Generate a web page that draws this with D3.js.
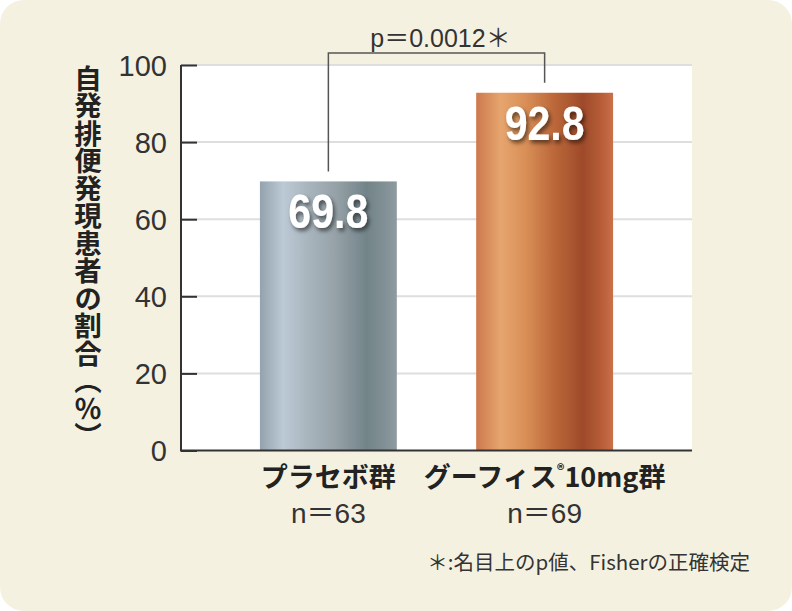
<!DOCTYPE html>
<html><head><meta charset="utf-8">
<script src="https://cdn.jsdelivr.net/npm/d3@7"></script>
<style>
html,body{margin:0;padding:0;background:#fff;}
svg{display:block;}
</style></head>
<body>
<svg id="chart" width="792" height="611"></svg>
<script>
const categories = ["プラセボ群", "グーフィス®10mg群"];
const nLabels = ["n＝63", "n＝69"];
const values = [69.8, 92.8];
const yTicks = [0, 20, 40, 60, 80, 100];
const yTitle = "自発排便発現患者の割合（％）";
const pText = "p＝0.0012＊";
const footnote = "＊:名目上のp値、Fisherの正確検定";

const svg = d3.select("#chart");
const W = 792, H = 611;
const plot = {left: 181, right: 692, top: 65, bottom: 450.5};

svg.append("rect").attr("x", 0).attr("y", 0).attr("width", W).attr("height", H)
  .attr("rx", 24).attr("fill", "#f5f1e1");

const defs = svg.append("defs");
const gradStops = [
  [[0, "#93a2ac"], [0.17, "#bccad6"], [0.35, "#a9b5bd"], [0.55, "#96a2a8"], [0.78, "#738489"], [0.9, "#7f8f94"], [1, "#8e9ba0"]],
  [[0, "#cd794d"], [0.18, "#e6a56e"], [0.36, "#d98f57"], [0.56, "#bd693b"], [0.78, "#9e4a2a"], [0.92, "#b85e38"], [1, "#c9714a"]]
];
gradStops.forEach((stops, i) => {
  const g = defs.append("linearGradient").attr("id", "bar" + i)
    .attr("x1", "0%").attr("x2", "100%").attr("y1", "0%").attr("y2", "0%");
  stops.forEach(s => g.append("stop").attr("offset", s[0]).attr("stop-color", s[1]));
});
const f = defs.append("filter").attr("id", "shadow").attr("x", "-20%").attr("y", "-20%").attr("width", "150%").attr("height", "160%");
f.append("feDropShadow").attr("dx", 2).attr("dy", 3).attr("stdDeviation", 2.2)
  .attr("flood-color", "#000").attr("flood-opacity", 0.55);

const x = d3.scaleBand().domain(categories).range([plot.left, plot.right])
  .paddingInner(0.367).paddingOuter(0.365);
const y = d3.scaleLinear().domain([0, 100]).range([plot.bottom, plot.top]);

// plot background
svg.append("rect").attr("x", plot.left).attr("y", plot.top)
  .attr("width", plot.right - plot.left).attr("height", plot.bottom - plot.top)
  .attr("fill", "#ffffff");

// gridlines
svg.append("g").selectAll("line").data(yTicks.filter(d => d > 0)).join("line")
  .attr("x1", plot.left).attr("x2", plot.right)
  .attr("y1", d => y(d)).attr("y2", d => y(d))
  .attr("stroke", "#dedede").attr("stroke-width", 2);

// bars
svg.append("g").selectAll("rect").data(values).join("rect")
  .attr("x", (d, i) => x(categories[i]))
  .attr("width", x.bandwidth())
  .attr("y", d => y(d))
  .attr("height", d => y(0) - y(d))
  .attr("fill", (d, i) => `url(#bar${i})`);

// axis
const axis = d3.axisLeft(y).tickValues(yTicks).tickSize(-16).tickPadding(14).tickFormat(d3.format("d"));
const ag = svg.append("g").attr("transform", `translate(${plot.left},0)`).call(axis);
ag.select(".domain").attr("stroke", "#333").attr("stroke-width", 2)
  .attr("d", `M0,${plot.top}V${plot.bottom}`);
ag.selectAll(".tick line").attr("stroke", "#333").attr("stroke-width", 2);
ag.selectAll(".tick text").attr("fill", "#333").attr("font-size", 29)
  .attr("font-family", "'Liberation Sans', Arial, sans-serif").attr("dy", "0.36em");

// x-axis baseline
svg.append("line").attr("x1", plot.left - 1).attr("x2", plot.right)
  .attr("y1", plot.bottom).attr("y2", plot.bottom)
  .attr("stroke", "#333").attr("stroke-width", 2);

// value labels
svg.append("g").selectAll("text").data(values).join("text")
  .attr("x", (d, i) => x(categories[i]) + x.bandwidth() / 2)
  .attr("y", d => y(d) + 47)
  .attr("text-anchor", "middle")
  .attr("font-family", "'Liberation Sans', Arial, sans-serif")
  .attr("font-weight", "bold").attr("font-size", 49)
  .attr("textLength", 80).attr("lengthAdjust", "spacingAndGlyphs")
  .attr("fill", "#fff").attr("filter", "url(#shadow)")
  .text(d => d.toFixed(1));

// category labels
const cat = svg.append("g").selectAll("text").data(categories).join("text")
  .attr("x", d => x(d) + x.bandwidth() / 2)
  .attr("y", 487)
  .attr("text-anchor", "middle")
  .attr("font-family", "'Noto Sans CJK JP', sans-serif")
  .attr("font-weight", "bold").attr("font-size", 27).attr("fill", "#222");
cat.each(function(d) {
  const t = d3.select(this);
  const parts = d.split("®");
  t.append("tspan").text(parts[0]);
  if (parts.length > 1) {
    t.append("tspan").attr("font-size", 15).attr("dy", -11).text("®");
    t.append("tspan").attr("dy", 11).text(parts[1]);
  }
});

// n labels
svg.append("g").selectAll("text").data(nLabels).join("text")
  .attr("x", (d, i) => x(categories[i]) + x.bandwidth() / 2)
  .attr("y", 523)
  .attr("text-anchor", "middle")
  .attr("font-family", "'Liberation Sans', Arial, 'Noto Sans CJK JP', sans-serif")
  .attr("font-size", 28).attr("fill", "#333")
  .text(d => d);

// y title (vertical)
svg.append("text")
  .attr("x", 88).attr("y", 257)
  .attr("text-anchor", "middle")
  .style("writing-mode", "vertical-rl")
  .style("text-orientation", "upright")
  .attr("font-family", "'Noto Sans CJK JP', sans-serif")
  .attr("font-weight", "bold").attr("font-size", 27.5).attr("fill", "#222")
  .text(yTitle);

// significance bracket
const cx0 = x(categories[0]) + x.bandwidth() / 2;
const cx1 = x(categories[1]) + x.bandwidth() / 2;
const topY = y(100) - 12;
svg.append("path")
  .attr("d", `M${cx0},${y(values[0]) - 10}V${topY}H${cx1}V${y(values[1]) - 10}`)
  .attr("fill", "none").attr("stroke", "#555").attr("stroke-width", 1.5);
svg.append("text")
  .attr("x", (cx0 + cx1) / 2 + 4).attr("y", 47)
  .attr("text-anchor", "middle")
  .attr("font-family", "'Liberation Sans', Arial, 'Noto Sans CJK JP', sans-serif")
  .attr("font-size", 25).attr("fill", "#333")
  .text(pText);

// footnote
svg.append("text")
  .attr("x", 750).attr("y", 570)
  .attr("text-anchor", "end")
  .attr("font-family", "'Noto Sans CJK JP', sans-serif")
  .attr("font-size", 20.5).attr("fill", "#333")
  .text(footnote);
</script>
</body></html>
